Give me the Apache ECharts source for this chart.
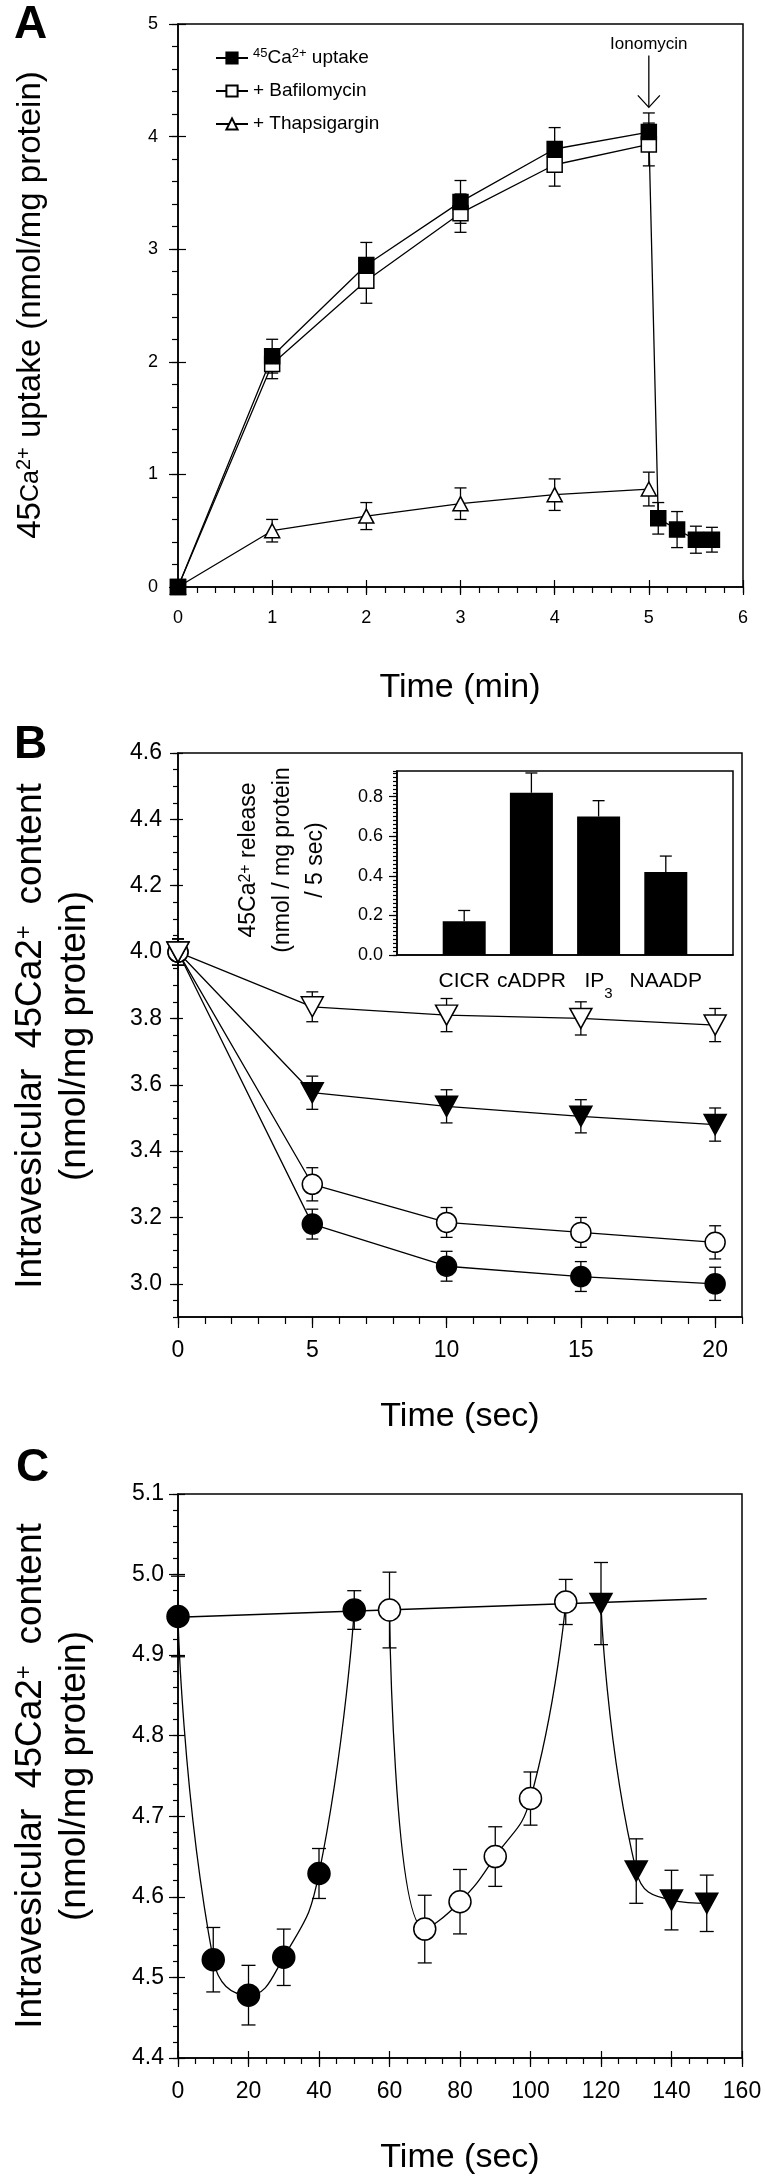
<!DOCTYPE html>
<html><head><meta charset="utf-8">
<script src="https://cdn.jsdelivr.net/npm/echarts@6/dist/echarts.min.js"></script>
<style>html,body{margin:0;padding:0;background:#fff}#c{width:765px;height:2182px}</style>
</head><body><div id="c"></div><script>
// ---------- Panel A : uptake (nmol/mg protein) vs time (min)
const aTime = [0, 1, 2, 3, 4, 5];
const aUptake = [0, 2.05, 2.86, 3.42, 3.89, 4.04];
const aUptakeErr = [0, 0.15, 0.2, 0.19, 0.19, 0.17];
const aIonoTime = [5.1, 5.3, 5.5, 5.67];
const aIono = [0.61, 0.51, 0.42, 0.42];
const aIonoErr = [0.14, 0.16, 0.12, 0.11];
const aBafilo = [0, 1.98, 2.72, 3.32, 3.75, 3.93];
const aBafiloErr = [0, 0.13, 0.2, 0.17, 0.19, 0.19];
const aThapsi = [0, 0.5, 0.63, 0.74, 0.82, 0.87];
const aThapsiErr = [0, 0.1, 0.12, 0.14, 0.14, 0.15];
const aXTicks = [0, 1, 2, 3, 4, 5, 6];
const aYTicks = [0, 1, 2, 3, 4, 5];

// ---------- Panel B : intravesicular content vs time (sec)
const bTime = [0, 5, 10, 15, 20];
const bFilledCircle = [4.0, 3.18, 3.053, 3.022, 3.0];
const bFilledCircleErr = [0.04, 0.045, 0.045, 0.045, 0.05];
const bOpenCircle = [4.0, 3.30, 3.185, 3.155, 3.125];
const bOpenCircleErr = [0.04, 0.05, 0.045, 0.045, 0.05];
const bFilledTri = [4.0, 3.576, 3.535, 3.505, 3.48];
const bFilledTriErr = [0.04, 0.05, 0.05, 0.05, 0.05];
const bOpenTri = [4.0, 3.835, 3.81, 3.80, 3.78];
const bOpenTriErr = [0.04, 0.045, 0.05, 0.05, 0.05];
const bXTicks = [0, 5, 10, 15, 20];
const bYTicks = [3.0, 3.2, 3.4, 3.6, 3.8, 4.0, 4.2, 4.4, 4.6];

// ---------- Inset : release per 5 sec
const insetCategories = ['CICR', 'cADPR', 'IP3', 'NAADP'];
const insetRelease = [0.17, 0.82, 0.70, 0.42];
const insetErr = [0.055, 0.10, 0.08, 0.08];
const insetYTicks = [0.0, 0.2, 0.4, 0.6, 0.8];

// ---------- Panel C
const cTimeFilled = [0, 10, 20, 30, 40, 50];
const cFilled = [4.948, 4.522, 4.478, 4.525, 4.629, 4.956];
const cFilledErr = [0.05, 0.04, 0.037, 0.035, 0.031, 0.024];
const cTimeOpen = [60, 70, 80, 90, 100, 110];
const cOpen = [4.956, 4.56, 4.594, 4.65, 4.722, 4.966];
const cOpenErr = [0.047, 0.042, 0.04, 0.037, 0.033, 0.028];
const cTimeTri = [120, 130, 140, 150];
const cTri = [4.964, 4.632, 4.596, 4.592];
const cTriErr = [0.051, 0.04, 0.037, 0.035];
const cBaseTime = [0, 150];
const cBase = [4.947, 4.970];
const cXTicks = [0, 20, 40, 60, 80, 100, 120, 140, 160];
const cYTicks = [4.4, 4.5, 4.6, 4.7, 4.8, 4.9, 5.0, 5.1];

const FONT = '"Liberation Sans", Arial, sans-serif';
const pairs = (xs, ys) => xs.map((x, i) => [x, ys[i]]);
const triples = (xs, ys, es) => xs.map((x, i) => [x, ys[i], es[i]]);

function axisSet(o) {
  const tickStyle = { color: '#000', width: 1.2 };
  const common = { type: 'value', gridIndex: o.grid, position: o.pos, min: o.min, max: o.max,
    splitLine: { show: false }, minorSplitLine: { show: false }, silent: true };
  return [
    Object.assign({}, common, { interval: o.step,
      axisLine: { show: true, onZero: false, lineStyle: { color: '#000', width: 1.5 } },
      axisTick: { show: true, length: o.minorLen, lineStyle: tickStyle },
      axisLabel: { show: true, customValues: o.majors, formatter: o.fmt, fontSize: o.size,
        margin: o.margin, color: '#000', fontFamily: FONT } }),
    Object.assign({}, common, { axisLine: { show: false }, axisLabel: { show: false },
      axisTick: { show: true, customValues: o.majors, length: o.outLen, lineStyle: tickStyle } }),
    Object.assign({}, common, { axisLine: { show: false }, axisLabel: { show: false },
      axisTick: { show: o.inLen > 0, inside: true, customValues: o.majors, length: Math.max(o.inLen, 1), lineStyle: tickStyle } })
  ];
}
const f1 = v => v.toFixed(1);
const f0 = v => String(Math.round(v));

const xAxes = [].concat(
  axisSet({ grid: 0, pos: 'bottom', min: 0, max: 6, step: 0.2, majors: aXTicks, fmt: f0, size: 18, margin: 22, minorLen: 6, outLen: 8, inLen: 7 }),
  axisSet({ grid: 1, pos: 'bottom', min: 0, max: 21, step: 1, majors: bXTicks, fmt: f0, size: 23, margin: 22, minorLen: 7, outLen: 11, inLen: 0 }),
  [{ type: 'category', gridIndex: 2, position: 'bottom', boundaryGap: false,
     data: [''].concat(insetCategories, ['']),
     axisLine: { show: true, lineStyle: { color: '#000', width: 1.5 } }, axisTick: { show: false }, splitLine: { show: false },
     axisLabel: { interval: 0, margin: 14, color: '#000', fontFamily: FONT, fontSize: 21,
       formatter: v => v === 'IP3' ? '{n|IP}{sub|3}' : '{n|' + v + '}',
       rich: { n: { fontSize: 21, fontFamily: FONT, color: '#000', lineHeight: 24 },
               sub: { fontSize: 15, fontFamily: FONT, color: '#000', lineHeight: 10, verticalAlign: 'bottom', padding: [0, 0, -8, 0] } } } }],
  axisSet({ grid: 3, pos: 'bottom', min: 0, max: 160, step: 5, majors: cXTicks, fmt: f0, size: 23, margin: 22, minorLen: 6, outLen: 9, inLen: 7 })
);
const yAxes = [].concat(
  axisSet({ grid: 0, pos: 'left', min: 0, max: 5, step: 0.2, majors: aYTicks, fmt: f0, size: 18, margin: 20, minorLen: 6, outLen: 9, inLen: 8 }),
  axisSet({ grid: 1, pos: 'left', min: 2.9, max: 4.6, step: 0.05, majors: bYTicks, fmt: f1, size: 23, margin: 16, minorLen: 5, outLen: 8, inLen: 5 }),
  axisSet({ grid: 2, pos: 'left', min: 0, max: 0.93, step: 0.02, majors: insetYTicks, fmt: f1, size: 18, margin: 14, minorLen: 4, outLen: 8, inLen: 0 }).slice(0, 2).concat([]),
  axisSet({ grid: 3, pos: 'left', min: 4.4, max: 5.1, step: 0.02, majors: cYTicks, fmt: f1, size: 23, margin: 14, minorLen: 5, outLen: 9, inLen: 7 })
);
// yAxes indices: A 0-2, B 3-5, inset 6-7, C 8-10 ; xAxes: A 0-2, B 3-5, inset 6, C 7-9

function errRender(capHalf, upOnly) {
  return function (params, api) {
    const x = api.value(0), y = api.value(1), e = api.value(2);
    if (!e) return null;
    const top = api.coord([x, y + e]);
    const bot = api.coord(upOnly ? [x, y] : [x, y - e]);
    const style = { stroke: '#000', lineWidth: 1.3 };
    const ch = [
      { type: 'line', shape: { x1: top[0], y1: top[1], x2: bot[0], y2: bot[1] }, style },
      { type: 'line', shape: { x1: top[0] - capHalf, y1: top[1], x2: top[0] + capHalf, y2: top[1] }, style }
    ];
    if (!upOnly) ch.push({ type: 'line', shape: { x1: bot[0] - capHalf, y1: bot[1], x2: bot[0] + capHalf, y2: bot[1] }, style });
    return { type: 'group', children: ch };
  };
}
function errSeries(xi, yi, data, cap, upOnly) {
  return { type: 'custom', xAxisIndex: xi, yAxisIndex: yi, data, renderItem: errRender(cap, upOnly), z: 1, silent: true, animation: false };
}
function lineSeries(name, xi, yi, data, symbol, size, filled, extra) {
  return Object.assign({ type: 'line', name, xAxisIndex: xi, yAxisIndex: yi, data, symbol, symbolSize: size,
    showAllSymbol: true, animation: false, silent: true,
    lineStyle: { color: '#000', width: 1.3 },
    itemStyle: { color: filled ? '#000' : '#fff', borderColor: '#000', borderWidth: 1.5 }, z: 3 }, extra || {});
}

const series = [
  // A
  errSeries(0, 0, triples(aTime, aUptake, aUptakeErr).concat(triples(aIonoTime, aIono, aIonoErr)), 6),
  errSeries(0, 0, triples(aTime, aBafilo, aBafiloErr), 6),
  errSeries(0, 0, triples(aTime, aThapsi, aThapsiErr), 6),
  lineSeries('+ Thapsigargin', 0, 0, pairs(aTime, aThapsi), 'triangle', [15, 14], false),
  lineSeries('+ Bafilomycin', 0, 0, pairs(aTime, aBafilo), 'rect', 15, false),
  lineSeries('45Ca2+ uptake', 0, 0, pairs(aTime, aUptake).concat(pairs(aIonoTime, aIono)), 'rect', 15, true),
  // B
  errSeries(3, 3, triples(bTime, bFilledCircle, bFilledCircleErr), 6),
  errSeries(3, 3, triples(bTime, bOpenCircle, bOpenCircleErr), 6),
  errSeries(3, 3, triples(bTime, bFilledTri, bFilledTriErr), 6),
  errSeries(3, 3, triples(bTime, bOpenTri, bOpenTriErr), 6),
  lineSeries('bFilledCircle', 3, 3, pairs(bTime, bFilledCircle), 'circle', 20, true),
  lineSeries('bOpenCircle', 3, 3, pairs(bTime, bOpenCircle), 'circle', 20, false),
  lineSeries('bFilledTri', 3, 3, pairs(bTime, bFilledTri), 'triangle', [22, 20], true, { symbolRotate: 180 }),
  lineSeries('bOpenTri', 3, 3, pairs(bTime, bOpenTri), 'triangle', [22, 20], false, { symbolRotate: 180 }),
  // inset
  { type: 'bar', xAxisIndex: 6, yAxisIndex: 6, barWidth: 43, silent: true, animation: false,
    itemStyle: { color: '#000' }, data: ['-'].concat(insetRelease, ['-']), z: 2 },
  errSeries(6, 6, insetRelease.map((v, i) => [i + 1, v, insetErr[i]]), 6, true),
  // C
  errSeries(7, 8, triples(cTimeFilled, cFilled, cFilledErr), 7),
  errSeries(7, 8, triples(cTimeOpen, cOpen, cOpenErr), 7),
  errSeries(7, 8, triples(cTimeTri, cTri, cTriErr), 7),
  lineSeries('cBase', 7, 8, pairs(cBaseTime, cBase), 'none', 0, true),
  lineSeries('cFilled', 7, 8, pairs(cTimeFilled, cFilled), 'circle', 22, true, { smooth: 0.5 }),
  lineSeries('cOpen', 7, 8, pairs(cTimeOpen, cOpen), 'circle', 22, false, { smooth: 0.5 }),
  lineSeries('cTri', 7, 8, pairs(cTimeTri, cTri), 'triangle', [22, 20], true, { smooth: 0.5, symbolRotate: 180 })
];

const gridBox = { show: true, borderColor: '#000', borderWidth: 1.5, backgroundColor: 'transparent', containLabel: false };
const chart = echarts.init(document.getElementById('c'));
chart.setOption({
  backgroundColor: '#fff',
  animation: false,
  grid: [
    Object.assign({ left: 178, width: 565, top: 24, height: 563 }, gridBox),
    Object.assign({ left: 178, width: 564, top: 753, height: 564 }, gridBox),
    Object.assign({ left: 397, width: 336, top: 771, height: 184 }, gridBox),
    Object.assign({ left: 178, width: 564, top: 1494, height: 564 }, gridBox)
  ],
  xAxis: xAxes,
  yAxis: yAxes,
  legend: {
    data: ['45Ca2+ uptake', '+ Bafilomycin', '+ Thapsigargin'],
    orient: 'vertical', left: 210, top: 42, itemWidth: 32, itemHeight: 14, itemGap: 11,
    selectedMode: false,
    textStyle: { fontSize: 19, fontFamily: FONT, color: '#000', lineHeight: 22,
      rich: { n: { fontSize: 19, fontFamily: FONT, color: '#000', lineHeight: 22 },
              sup: { fontSize: 13, fontFamily: FONT, color: '#000', lineHeight: 12, verticalAlign: 'top' } } },
    formatter: n => n === '45Ca2+ uptake' ? '{sup|45}{n|Ca}{sup|2+}{n| uptake}' : n
  },
  series
});

// ---------- annotations (texts, titles, Ionomycin arrow)
const tip = chart.convertToPixel({ xAxisIndex: 0, yAxisIndex: 0 }, [5, 4.26]);
const tail = chart.convertToPixel({ xAxisIndex: 0, yAxisIndex: 0 }, [5, 4.72]);
const lab = chart.convertToPixel({ xAxisIndex: 0, yAxisIndex: 0 }, [5, 4.82]);
const txt = (x, y, text, size, extra) => Object.assign({ type: 'text', x, y, silent: true,
  style: { text, fontSize: size, fontFamily: FONT, fill: '#000', align: 'center', verticalAlign: 'middle' } }, extra || {});
const rot = Math.PI / 2;
const richA = { n: { fontSize: 33, fontFamily: FONT, fill: '#000' }, m: { fontSize: 25, fontFamily: FONT, fill: '#000' },
  sup: { fontSize: 20, fontFamily: FONT, fill: '#000', lineHeight: 16, verticalAlign: 'top' } };
const richB = { n: { fontSize: 37, fontFamily: FONT, fill: '#000' },
  sup: { fontSize: 24, fontFamily: FONT, fill: '#000', lineHeight: 18, verticalAlign: 'top' } };
const richI = { n: { fontSize: 23, fontFamily: FONT, fill: '#000' },
  sup: { fontSize: 16, fontFamily: FONT, fill: '#000', lineHeight: 12, verticalAlign: 'top' } };
function rtxt(x, y, text, rich) {
  return { type: 'text', x, y, rotation: rot, silent: true,
    style: { text, rich, align: 'center', verticalAlign: 'middle', fill: '#000', fontFamily: FONT } };
}
chart.setOption({
  graphic: [
    txt(14, 25, 'A', 46, { style: { text: 'A', fontSize: 46, fontWeight: 'bold', fontFamily: FONT, fill: '#000', align: 'left', verticalAlign: 'middle' } }),
    txt(14, 745, 'B', 46, { style: { text: 'B', fontSize: 46, fontWeight: 'bold', fontFamily: FONT, fill: '#000', align: 'left', verticalAlign: 'middle' } }),
    txt(16, 1468, 'C', 46, { style: { text: 'C', fontSize: 46, fontWeight: 'bold', fontFamily: FONT, fill: '#000', align: 'left', verticalAlign: 'middle' } }),
    rtxt(31, 305, '{n|45}{m|Ca}{sup|2+}{n| uptake (nmol/mg protein)}', richA),
    txt(460, 688, 'Time (min)', 34),
    rtxt(31, 1036, '{n|Intravesicular  45Ca2}{sup|+}{n|  content}', richB),
    rtxt(75, 1036, '{n|(nmol/mg protein)}', richB),
    txt(460, 1417, 'Time (sec)', 34),
    rtxt(31, 1776, '{n|Intravesicular  45Ca2}{sup|+}{n|  content}', richB),
    rtxt(75, 1776, '{n|(nmol/mg protein)}', richB),
    txt(460, 2158, 'Time (sec)', 34),
    rtxt(249, 860, '{n|45Ca}{sup|2+}{n| release}', richI),
    rtxt(283, 860, '{n|(nmol / mg protein}', richI),
    rtxt(316, 860, '{n|/ 5 sec)}', richI),
    txt(lab[0], lab[1], 'Ionomycin', 17),
    { type: 'line', silent: true, shape: { x1: tail[0], y1: tail[1], x2: tip[0], y2: tip[1] }, style: { stroke: '#000', lineWidth: 1.3 } },
    { type: 'polyline', silent: true, shape: { points: [[tip[0] - 11, tip[1] - 12], [tip[0], tip[1]], [tip[0] + 11, tip[1] - 12]] }, style: { stroke: '#000', lineWidth: 1.3, fill: null } }
  ]
});
</script></body></html>
